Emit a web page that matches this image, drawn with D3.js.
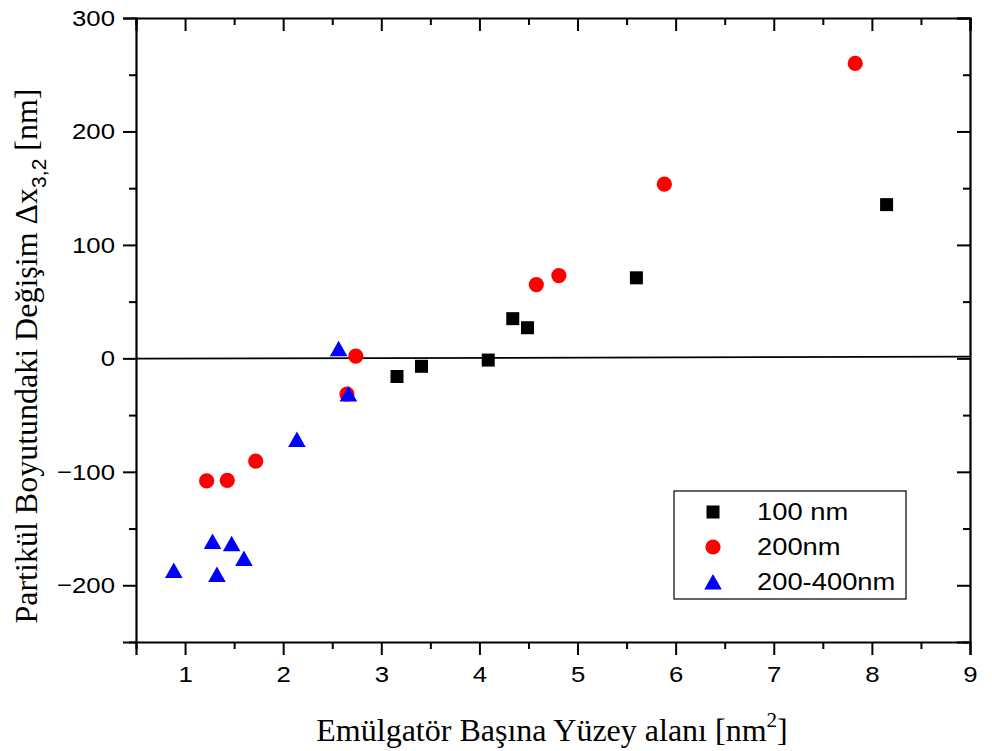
<!DOCTYPE html>
<html>
<head>
<meta charset="utf-8">
<script src="https://cdn.jsdelivr.net/npm/d3@7"></script>
<style>
    body { margin: 0; background: #fff; }
    svg { display: block; }
</style>
</head>
<body>
<div class="chart"></div>
<script>
// Dimensions
const width = 992;
const height = 751;
const margin = { top: 18, right: 22, bottom: 109, left: 136 };

// Données
const x100 = [3.16, 3.41, 4.09, 4.34, 4.49, 5.60, 8.15];
const y100 = [-16, -7, -1.5, 35, 27, 71, 135.5];

const x200 = [1.22, 1.43, 1.72, 2.65, 2.74, 4.58, 4.81, 5.885, 7.83];
const y200 = [-108, -107.5, -90.5, -31.5, 2, 65, 73, 153.5, 260];

const x200400 = [0.885, 1.28, 1.475, 1.60, 1.325, 2.14, 2.565, 2.665];
const y200400 = [-187, -161.5, -163.5, -176.5, -190.5, -71.5, 8.5, -31.5];

// Ligne de référence (presque horizontale)
const zeroLine = [[0.5, -0.3], [9, 1.5]];

const xTicks = [1, 2, 3, 4, 5, 6, 7, 8, 9];
const xMinorTicks = [0.5, 1.5, 2.5, 3.5, 4.5, 5.5, 6.5, 7.5, 8.5];
const yTicks = [-200, -100, 0, 100, 200, 300];
const yMinorTicks = [-250, -150, -50, 50, 150, 250];

const seriesNames = ["100 nm", "200nm", "200-400nm"];

const series = [
    { name: seriesNames[0], xs: x100, ys: y100, shape: "square", color: "#000000" },
    { name: seriesNames[1], xs: x200, ys: y200, shape: "circle", color: "#ff0000" },
    { name: seriesNames[2], xs: x200400, ys: y200400, shape: "triangle", color: "#0000ff" }
];

const svg = d3.select(".chart")
    .append("svg")
    .attr("width", width)
    .attr("height", height);

// Echelles
const x = d3.scaleLinear()
    .domain([0.5, 9])
    .range([margin.left, width - margin.right]);

const y = d3.scaleLinear()
    .domain([-250, 300])
    .range([height - margin.bottom, margin.top]);

const tickFont = "'Liberation Sans', Arial, sans-serif";
const titleFont = "'Liberation Serif', 'Times New Roman', serif";
const tickStretch = 1.12;
const legendStretch = 1.19;

// Axe bas
const gBottom = svg.append("g")
    .attr("transform", `translate(0, ${y.range()[0]})`);
gBottom.call(d3.axisBottom(x).tickValues(xTicks).tickSize(13).tickPadding(11).tickFormat(d3.format("d")));
gBottom.append("g").call(d3.axisBottom(x).tickValues(xMinorTicks).tickSize(7).tickFormat(""))
    .call(g => g.select(".domain").remove());

// Axe gauche
const gLeft = svg.append("g")
    .attr("transform", `translate(${x.range()[0]}, 0)`);
gLeft.call(d3.axisLeft(y).tickValues(yTicks).tickSize(13).tickPadding(8).tickFormat(d3.format("d")));
gLeft.append("g").call(d3.axisLeft(y).tickValues(yMinorTicks).tickSize(7).tickFormat(""))
    .call(g => g.select(".domain").remove());

// Axe haut (ticks vers l'intérieur)
const gTop = svg.append("g")
    .attr("transform", `translate(0, ${y.range()[1]})`);
gTop.call(d3.axisTop(x).tickValues(xTicks).tickSize(-13).tickFormat(""));
gTop.append("g").call(d3.axisTop(x).tickValues(xMinorTicks).tickSize(-7).tickFormat(""))
    .call(g => g.select(".domain").remove());

// Axe droit (ticks vers l'intérieur)
const gRight = svg.append("g")
    .attr("transform", `translate(${x.range()[1]}, 0)`);
gRight.call(d3.axisRight(y).tickValues(yTicks).tickSize(-13).tickFormat(""));
gRight.append("g").call(d3.axisRight(y).tickValues(yMinorTicks).tickSize(-7).tickFormat(""))
    .call(g => g.select(".domain").remove());

svg.selectAll(".domain").attr("stroke", "#000").attr("stroke-width", 2.2);
svg.selectAll(".tick line").attr("stroke", "#000").attr("stroke-width", 2);
svg.selectAll(".tick text")
    .attr("font-family", tickFont)
    .attr("font-size", 23)
    .attr("fill", "#000")
    .each(function() {
        // étirement horizontal des étiquettes
        const t = d3.select(this);
        const x0 = +t.attr("x") || 0;
        t.attr("x", x0 / tickStretch).attr("transform", `scale(${tickStretch}, 1)`);
    });

// Ligne zéro
svg.append("path")
    .datum(zeroLine)
    .attr("fill", "none")
    .attr("stroke", "#000")
    .attr("stroke-width", 1.8)
    .attr("d", d3.line().x(d => x(d[0])).y(d => y(d[1])));

// Formes des symboles
function markerPath(shape) {
    if (shape === "square") return "M-6.5,-6.5H6.5V6.5H-6.5Z";
    if (shape === "circle") return d3.symbol(d3.symbolCircle, Math.PI * 7.6 * 7.6)();
    return "M0,-8L8.8,7.5H-8.8Z";
}

// Points
series.forEach(s => {
    const pts = s.xs.map((v, i) => ({ x: v, y: s.ys[i] }));
    svg.append("g")
        .selectAll("path")
        .data(pts)
        .join("path")
        .attr("transform", d => `translate(${x(d.x)}, ${y(d.y)})`)
        .attr("d", markerPath(s.shape))
        .attr("fill", s.color);
});

// Légende
const legend = svg.append("g");
legend.append("rect")
    .attr("x", 674)
    .attr("y", 491)
    .attr("width", 232)
    .attr("height", 108)
    .attr("fill", "#fff")
    .attr("stroke", "#000")
    .attr("stroke-width", 1.2);

const legendRows = legend.selectAll("g.row")
    .data(series)
    .join("g")
    .attr("class", "row")
    .attr("transform", (d, i) => `translate(713, ${512 + i * 35})`);

legendRows.append("path")
    .attr("d", d => markerPath(d.shape))
    .attr("fill", d => d.color);

legendRows.append("text")
    .attr("x", 44 / legendStretch)
    .attr("dy", "0.36em")
    .attr("transform", `scale(${legendStretch}, 1)`)
    .attr("font-family", tickFont)
    .attr("font-size", 23)
    .text(d => d.name);

// Titre axe X
const xTitle = svg.append("text")
    .attr("x", 552)
    .attr("y", 741)
    .attr("text-anchor", "middle")
    .attr("font-family", titleFont)
    .attr("font-size", 32);
xTitle.append("tspan").text("Emülgatör Başına Yüzey alanı [nm");
xTitle.append("tspan").attr("font-size", 21).attr("dy", -14).text("2");
xTitle.append("tspan").attr("dy", 14).text("]");

// Titre axe Y
const yTitle = svg.append("text")
    .attr("transform", "translate(37, 356) rotate(-90)")
    .attr("text-anchor", "middle")
    .attr("font-family", titleFont)
    .attr("font-size", 32);
yTitle.append("tspan").text("Partikül Boyutundaki Değişim ");
yTitle.append("tspan").text("Δx");
yTitle.append("tspan").attr("font-size", 21).attr("dy", 9).attr("font-family", tickFont).text("3,2");
yTitle.append("tspan").attr("dy", -9).text("  [nm]");
</script>
</body>
</html>
